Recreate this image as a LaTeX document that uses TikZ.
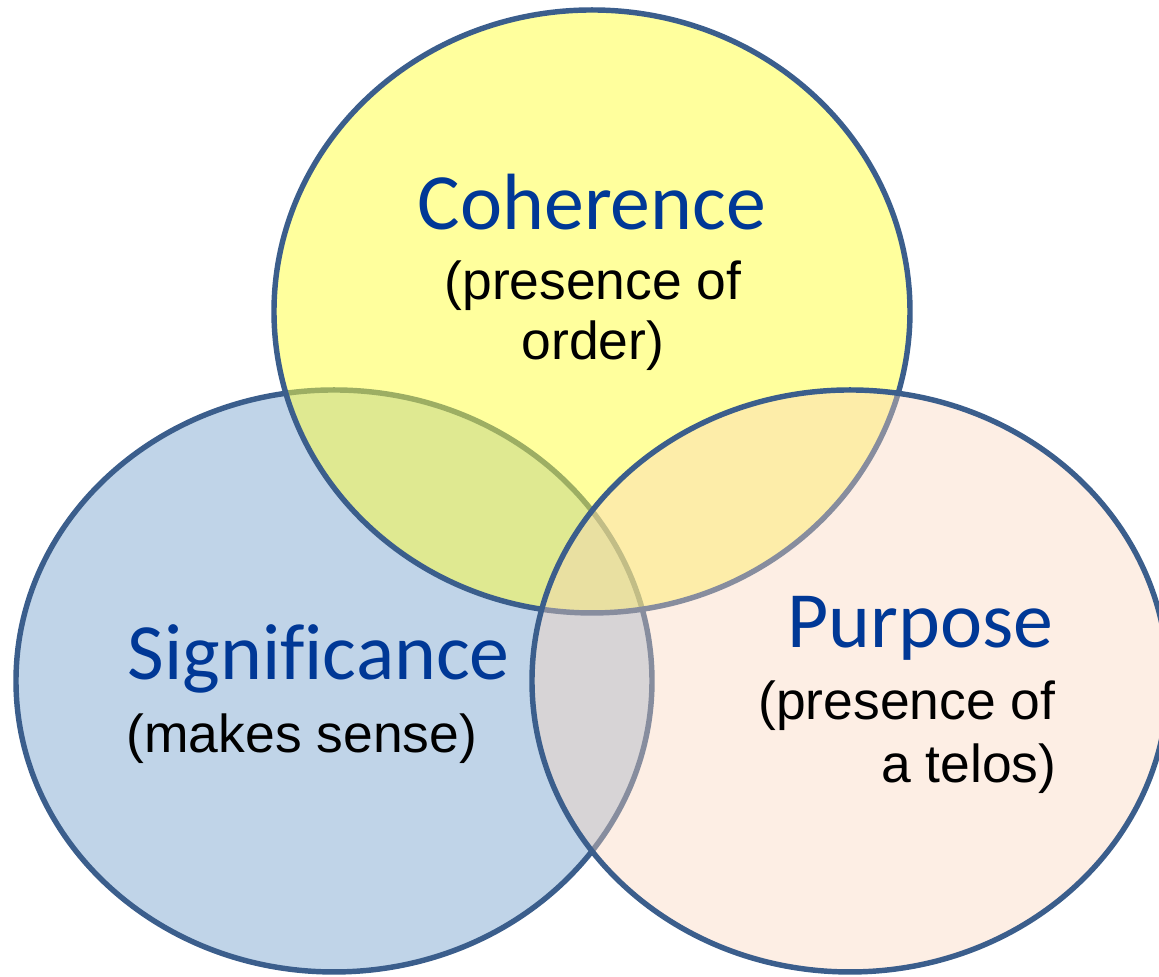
\documentclass[tikz,border=0pt]{standalone}
\usepackage{fontspec}
\setmainfont{Liberation Sans}
\newfontfamily\headfont[Ligatures=NoCommon]{Carlito}
\usepackage{tikz}
\usetikzlibrary{positioning}

\definecolor{rimblue}{RGB}{59,94,140}
\definecolor{headblue}{RGB}{0,56,150}
\definecolor{sigfill}{RGB}{192,212,232}
\definecolor{cohfill}{RGB}{255,255,60}
\definecolor{purfill}{RGB}{250,212,187}

\begin{document}
\begin{tikzpicture}[
    rim/.style={draw=rimblue, line width=1.55pt},
    headline/.style={font=\headfont\fontsize{22.7pt}{26pt}\selectfont, text=headblue, inner sep=0pt},
    note/.style={font=\fontsize{15.2pt}{18pt}\selectfont, inner sep=0pt}
]
    \useasboundingbox (0,0) rectangle (11.59,9.77);

    % Significance (bottom left)
    \draw[rim, fill=sigfill] (3.34,2.96) ellipse (3.18 and 2.91);

    % Coherence (top), see-through fill
    \draw[rim, fill=cohfill, fill opacity=0.5] (5.92,6.655) ellipse (3.18 and 3.015);

    % Purpose (bottom right), see-through fill
    \draw[rim, fill=purfill, fill opacity=0.4] (8.50,2.96) ellipse (3.18 and 2.91);

    % Labels
    \node[headline, anchor=base] (cohHead) at (5.92,7.47) {Coherence};
    \node[note, anchor=base] (cohNoteA) at (5.93,6.77) {(presence of};
    \node[note, anchor=base] (cohNoteB) at (5.93,6.17) {order)};

    \node[headline, anchor=base west] (sigHead) at (1.27,2.97) {Significance};
    \node[note, anchor=base west] (sigNote) at (1.26,2.24) {(makes sense)};

    \node[headline, anchor=base east] (purHead) at (10.54,3.29) {Purpose};
    \node[note, anchor=base east] (purNoteA) at (10.56,2.57) {(presence of};
    \node[note, anchor=base east] (purNoteB) at (10.57,1.94) {a telos)};
\end{tikzpicture}
\end{document}
